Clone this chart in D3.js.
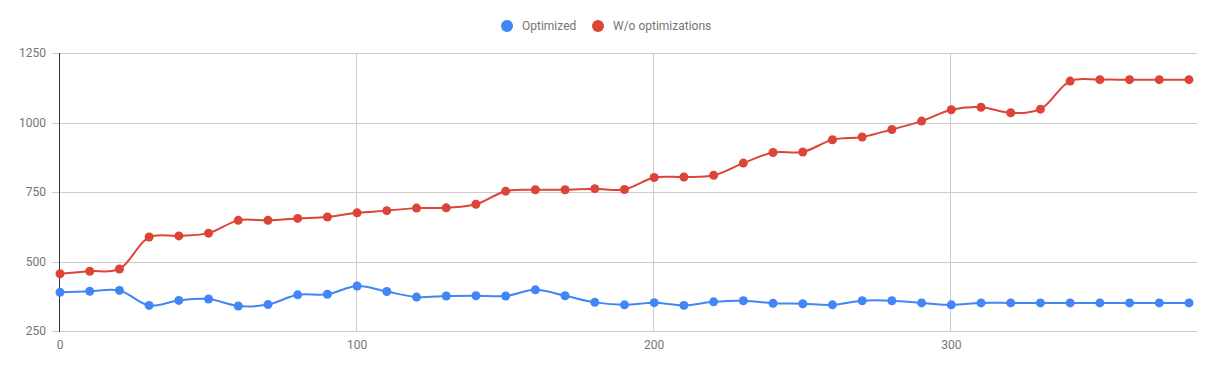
<!DOCTYPE html>
<html>
<head>
<meta charset="utf-8">
<script src="https://cdn.jsdelivr.net/npm/d3@7"></script>
<style>
  body { margin: 0; background: #fff; }
  svg { display: block; font-family: Roboto, sans-serif; }
</style>
</head>
<body>
<svg id="chart" width="1215" height="371"></svg>
<script>
// values, x step 10
const xValues = d3.range(0, 390, 10)
const optimized = [
  389, 393, 396, 342, 360, 365, 340, 345, 380, 382,
  412, 392, 372, 376, 377, 376, 398, 377, 353, 344,
  352, 342, 355, 359, 350, 348, 344, 359, 359, 351,
  344, 351, 351, 351, 351, 351, 351, 351, 351
]
const withoutOpt = [
  456, 465, 473, 588, 592, 602, 648, 648, 655, 660,
  675, 683, 692, 693, 706, 753, 758, 758, 762, 759,
  802, 804, 810, 854, 892, 894, 938, 948, 975, 1005,
  1046, 1055, 1035, 1048, 1149, 1154, 1154, 1154, 1154
]
const yTicks = [250, 500, 750, 1000, 1250]
const xTicks = [0, 100, 200, 300]
const seriesNames = ['Optimized', 'W/o optimizations']
const seriesColors = ['#4285f4', '#db4437']

const svg = d3.select('#chart')
const plotLeft = 60, plotRight = 1197, plotTop = 53, plotBottom = 331

let xScale = d3.scaleLinear().domain([0, 382.7]).range([plotLeft, plotRight])
let yScale = d3.scaleLinear().domain([250, 1250]).range([plotBottom, plotTop])

// gridlines (small stub left of the axis like the original)
svg.append('g')
  .selectAll('line')
  .data(yTicks)
  .enter()
  .append('line')
  .attr('x1', plotLeft - 8)
  .attr('x2', plotRight)
  .attr('y1', (d) => Math.round(yScale(d)) + 0.5)
  .attr('y2', (d) => Math.round(yScale(d)) + 0.5)
  .attr('stroke', '#cccccc')

svg.append('g')
  .selectAll('line')
  .data(xTicks.slice(1))
  .enter()
  .append('line')
  .attr('x1', (d) => Math.round(xScale(d)) - 0.5)
  .attr('x2', (d) => Math.round(xScale(d)) - 0.5)
  .attr('y1', plotTop)
  .attr('y2', plotBottom)
  .attr('stroke', '#cccccc')

// baseline at x = 0
svg.append('line')
  .attr('x1', Math.round(xScale(0)) - 0.5)
  .attr('x2', Math.round(xScale(0)) - 0.5)
  .attr('y1', plotTop)
  .attr('y2', plotBottom + 1)
  .attr('stroke', '#333333')

// tick labels
svg.append('g')
  .selectAll('text')
  .data(yTicks)
  .enter()
  .append('text')
  .attr('x', plotLeft - 14)
  .attr('y', (d) => yScale(d) + 4)
  .attr('text-anchor', 'end')
  .attr('font-size', 12)
  .attr('fill', '#757575')
  .text((d) => d)

svg.append('g')
  .selectAll('text')
  .data(xTicks)
  .enter()
  .append('text')
  .attr('x', (d) => xScale(d))
  .attr('y', plotBottom + 18)
  .attr('text-anchor', 'middle')
  .attr('font-size', 12)
  .attr('fill', '#757575')
  .text((d) => d)

// series
const allSeries = [optimized, withoutOpt]
const line = d3.line()
  .x((d, i) => xScale(xValues[i]))
  .y((d) => yScale(d))
  .curve(d3.curveCatmullRom.alpha(0.5))

allSeries.forEach((vals, s) => {
  svg.append('path')
    .datum(vals)
    .attr('d', line)
    .attr('fill', 'none')
    .attr('stroke', seriesColors[s])
    .attr('stroke-width', 2)

  svg.append('g')
    .selectAll('circle')
    .data(vals)
    .enter()
    .append('circle')
    .attr('cx', (d, i) => xScale(xValues[i]))
    .attr('cy', (d) => yScale(d))
    .attr('r', 4.5)
    .attr('fill', seriesColors[s])
})

// legend
const legendX = [507, 598]
seriesNames.forEach((name, s) => {
  svg.append('circle')
    .attr('cx', legendX[s])
    .attr('cy', 26)
    .attr('r', 6)
    .attr('fill', seriesColors[s])
  svg.append('text')
    .attr('x', legendX[s] + 15)
    .attr('y', 30)
    .attr('font-size', 12)
    .attr('fill', '#757575')
    .text(name)
})
</script>
</body>
</html>
